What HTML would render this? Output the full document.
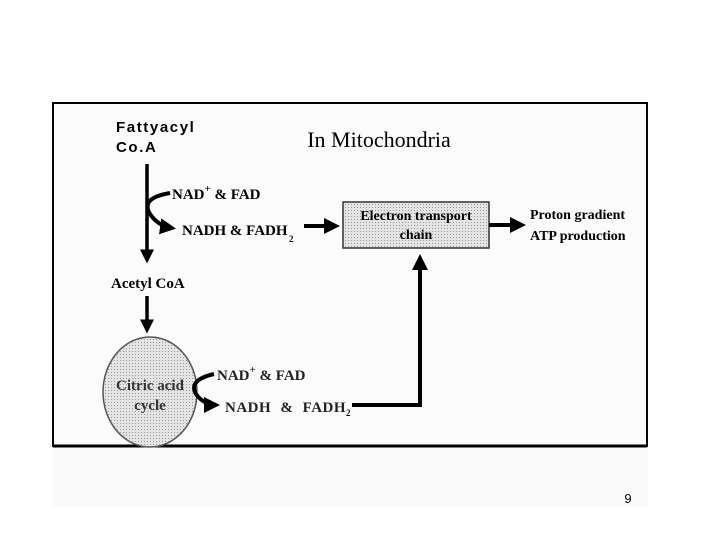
<!DOCTYPE html>
<html><head><style>
body{margin:0;width:720px;height:540px;background:#fff;overflow:hidden;position:relative}
svg{position:absolute;left:0;top:0}
</style></head><body>
<svg width="720" height="540" viewBox="0 0 720 540">
<defs>
<pattern id="dots" width="3" height="3" patternUnits="userSpaceOnUse">
<rect width="3" height="3" fill="#e4e4e4"/><rect width="1" height="1" fill="#999"/>
</pattern>
<marker id="ah" markerWidth="4" markerHeight="4" refX="3" refY="2" orient="auto" markerUnits="strokeWidth">
<path d="M0,0 L4,2 L0,4 z" fill="#000"/></marker>
</defs>
<rect x="52" y="447" width="596" height="60" fill="#fafafa"/>
<rect x="53" y="103" width="594" height="343" fill="#fbfbfb" stroke="#000" stroke-width="2"/>
<line x1="53" y1="446" x2="647" y2="446" stroke="#000" stroke-width="3"/>
<text x="628" y="503" font-family="Liberation Sans, sans-serif" font-size="13" text-anchor="middle">9</text>
<text x="116" y="132" font-family="Liberation Sans, sans-serif" font-weight="bold" font-size="15" letter-spacing="1.6">Fattyacyl</text>
<text x="116" y="152" font-family="Liberation Sans, sans-serif" font-weight="bold" font-size="15" letter-spacing="1.6">Co.A</text>
<text x="379" y="147" font-family="Liberation Serif, serif" font-size="22" text-anchor="middle">In Mitochondria</text>
<g font-family="Liberation Serif, serif" font-weight="bold" font-size="15">
<line x1="147" y1="164" x2="147" y2="260" stroke="#000" stroke-width="3.5" marker-end="url(#ah)"/>
<path d="M170,193 Q140,198 150,214 Q158,226 172,228" fill="none" stroke="#000" stroke-width="4" marker-end="url(#ah)"/>
<text x="172" y="199">NAD<tspan font-size="11" dy="-7">+</tspan><tspan dy="7"> &amp; FAD</tspan></text>
<text x="182" y="235">NADH &amp; FADH</text>
<text x="289" y="242" font-size="9">2</text>
<line x1="304" y1="226" x2="336" y2="226" stroke="#000" stroke-width="4" marker-end="url(#ah)"/>
<rect x="343" y="202" width="146" height="46" fill="url(#dots)" stroke="#333" stroke-width="1.5"/>
<text x="416" y="220" text-anchor="middle" font-size="14">Electron transport</text>
<text x="416" y="239" text-anchor="middle" font-size="14">chain</text>
<line x1="489" y1="225" x2="522" y2="225" stroke="#000" stroke-width="4" marker-end="url(#ah)"/>
<text x="530" y="219" font-size="14">Proton gradient</text>
<text x="530" y="240" font-size="14">ATP production</text>
<text x="111" y="288" font-size="15">Acetyl CoA</text>
<line x1="147" y1="296" x2="147" y2="330" stroke="#000" stroke-width="3.5" marker-end="url(#ah)"/>
<ellipse cx="150" cy="392" rx="47" ry="55" fill="url(#dots)" stroke="#555" stroke-width="1.5"/>
<text x="150" y="390" text-anchor="middle" fill="#333">Citric acid</text>
<text x="150" y="410" text-anchor="middle" fill="#333">cycle</text>
<path d="M214,374 Q188,380 196,394 Q204,405 216,405" fill="none" stroke="#000" stroke-width="4" marker-end="url(#ah)"/>
<text x="217" y="380" fill="#222">NAD<tspan font-size="11" dy="-7">+</tspan><tspan dy="7"> &amp; FAD</tspan></text>
<text x="225" y="412" fill="#222" letter-spacing="0.5" word-spacing="5">NADH &amp; FADH</text>
<text x="346" y="416" font-size="9">2</text>
<polyline points="352,405 420,405 420,258" fill="none" stroke="#000" stroke-width="4" marker-end="url(#ah)"/>
</g>
</svg>
</body></html>
